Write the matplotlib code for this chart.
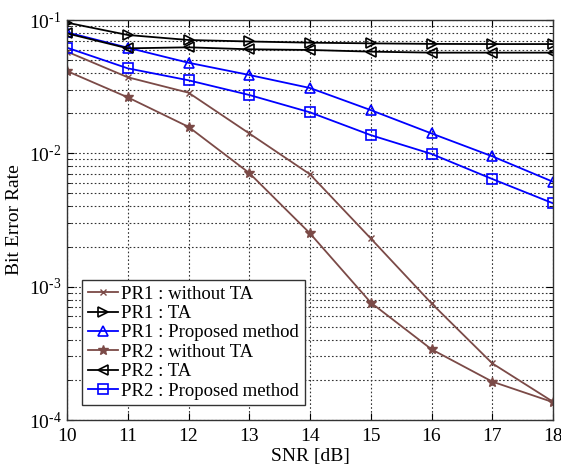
import matplotlib
matplotlib.use("Agg")
import matplotlib.pyplot as plt
import numpy as np
from matplotlib.ticker import LogLocator, FuncFormatter

plt.rcParams['font.family'] = ['Liberation Serif', 'DejaVu Serif']
plt.rcParams['mathtext.fontset'] = 'custom'
plt.rcParams['mathtext.rm'] = 'Liberation Serif'
plt.rcParams['mathtext.it'] = 'Liberation Serif:italic'

snr = [10, 11, 12, 13, 14, 15, 16, 17, 18]

pr1_without_ta = [0.0579, 0.0372, 0.0285, 0.0141, 0.00696, 0.0023, 0.00075, 0.000266, 0.000137]
pr1_ta = [0.0955, 0.0772, 0.0708, 0.069, 0.0676, 0.0668, 0.0662, 0.066, 0.066]
pr1_proposed = [0.0808, 0.062, 0.0478, 0.0387, 0.0309, 0.0211, 0.0141, 0.0095, 0.00612]
pr2_without_ta = [0.0414, 0.0263, 0.0158, 0.00712, 0.00251, 0.00076, 0.000339, 0.000194, 0.000136]
pr2_ta = [0.0794, 0.0613, 0.0624, 0.0603, 0.0596, 0.0579, 0.0569, 0.0569, 0.0569]
pr2_proposed = [0.062, 0.0434, 0.0353, 0.0274, 0.0203, 0.0137, 0.0099, 0.00642, 0.00422]

brown = '#7b4a47'


def pow10(v, pos):
    # 10^k labels with a plain hyphen in the exponent
    k = int(round(np.log10(v)))
    return r'$\mathregular{10^{\text{-}%d}}$' % abs(k) if k < 0 else r'$\mathregular{10^{%d}}$' % k


fig = plt.figure(figsize=(5.61, 4.69), dpi=100)
ax = fig.add_axes([67 / 561, 1 - 420 / 469, 486 / 561, 400 / 469])

ax.semilogy(snr, pr1_without_ta, color=brown, marker='x', ms=5, lw=1.3, mew=1.0,
            label='PR1 : without TA')
ax.semilogy(snr, pr1_ta, color='black', marker='>', ms=6.5, lw=1.3, mfc='none', mew=1.2,
            label='PR1 : TA')
ax.semilogy(snr, pr1_proposed, color='blue', marker='^', ms=7.5, lw=1.3, mfc='none', mew=1.2,
            label='PR1 : Proposed method')
ax.semilogy(snr, pr2_without_ta, color=brown, marker='*', ms=7.5, lw=1.3, mew=1.0,
            label='PR2 : without TA')
ax.semilogy(snr, pr2_ta, color='black', marker='<', ms=6.5, lw=1.3, mfc='none', mew=1.2,
            label='PR2 : TA')
ax.semilogy(snr, pr2_proposed, color='blue', marker='s', ms=6.5, lw=1.3, mfc='none', mew=1.2,
            label='PR2 : Proposed method')

ax.set_xlim(10, 18)
ax.set_ylim(1e-4, 1e-1)
ax.set_xticks(snr)
ax.yaxis.set_major_locator(LogLocator(base=10, numticks=10))
ax.yaxis.set_major_formatter(FuncFormatter(pow10))
ax.yaxis.set_minor_locator(LogLocator(base=10, subs=np.arange(2, 10), numticks=20))
ax.yaxis.set_minor_formatter(plt.NullFormatter())

ax.grid(True, which='major', ls=(0, (1.5, 2)), color='#333333', lw=0.8)
ax.grid(True, which='minor', axis='y', ls=(0, (1.5, 2)), color='#333333', lw=0.8)
ax.tick_params(which='both', direction='in', top=True, right=True, labelsize=14)
ax.tick_params(which='major', length=5)
ax.tick_params(which='minor', length=3)
ax.tick_params(axis='x', pad=6)
ax.tick_params(axis='y', pad=4)
for s in ax.spines.values():
    s.set_color('#333333')
    s.set_linewidth(1.0)

ax.set_xlabel('SNR [dB]', fontsize=14, labelpad=2)
ax.set_ylabel('Bit Error Rate', fontsize=14, labelpad=4)

leg = ax.legend(loc='lower left', bbox_to_anchor=(0.031, 0.037), fontsize=13.5, fancybox=False,
                framealpha=1, edgecolor='#333333', handlelength=1.6, handletextpad=0.2,
                labelspacing=0.12, borderpad=0.3, borderaxespad=0)
leg.get_frame().set_linewidth(1.0)

fig.savefig('out.png', dpi=100)
